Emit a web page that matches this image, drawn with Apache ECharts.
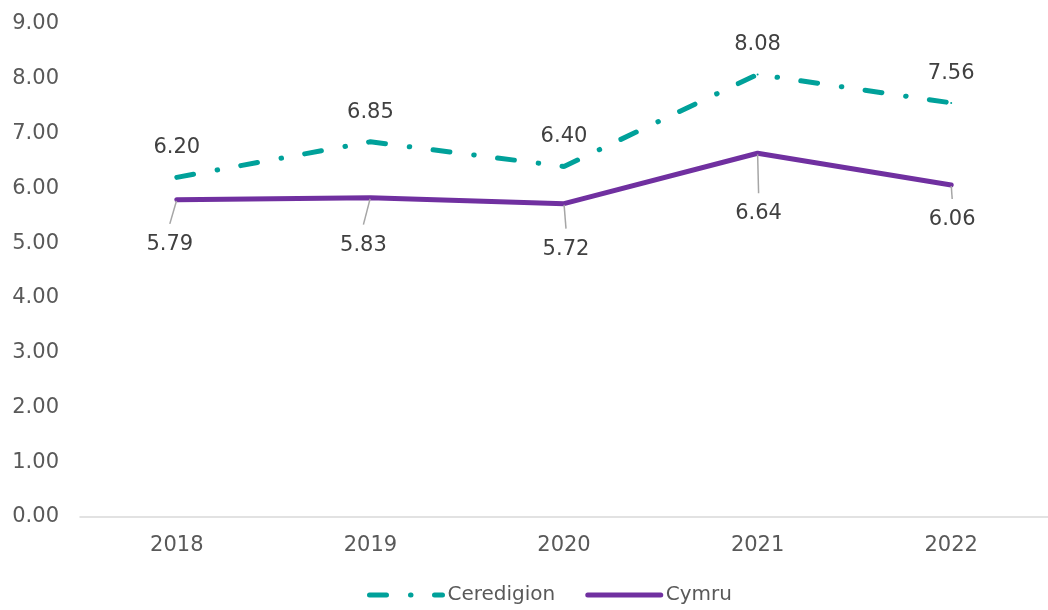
<!DOCTYPE html>
<html>
<head>
<meta charset="utf-8">
<script src="https://cdn.jsdelivr.net/npm/echarts@6/dist/echarts.min.js"></script>
<style>
  html, body { margin: 0; padding: 0; background: #fff; }
  #chart { width: 1048px; height: 610px; }
</style>
</head>
<body>
<div id="chart"></div>
<script>
// data
const years = ['2018', '2019', '2020', '2021', '2022']
const ceredigion = [6.20, 6.85, 6.40, 8.08, 7.56]
const cymru = [5.79, 5.83, 5.72, 6.64, 6.06]

// where the Cymru labels sit relative to their points
const cymruLabelShift = [[-7, 18], [-7, 21], [2, 19], [1, 34], [1, 8]]

const font = 'DejaVu Sans'
const teal = '#00a19a'
const purple = '#7030a0'

const chart = echarts.init(document.getElementById('chart'))
chart.setOption({
  animation: false,
  textStyle: { fontFamily: font },
  grid: { left: 80, right: -12, top: 24, bottom: 93 },
  xAxis: {
    type: 'category',
    data: years,
    boundaryGap: true,
    axisLine: { lineStyle: { color: '#d9d9d9', width: 1.5 } },
    axisTick: { show: false },
    axisLabel: { color: '#595959', fontSize: 21, margin: 18 }
  },
  yAxis: {
    type: 'value',
    min: 0,
    max: 9,
    interval: 1,
    axisLine: { show: false },
    axisTick: { show: false },
    splitLine: { show: false },
    axisLabel: {
      color: '#595959',
      fontSize: 21,
      margin: 21,
      padding: [6, 0, 0, 0],
      formatter: v => v.toFixed(2)
    }
  },
  legend: {
    top: 585,
    left: 367,
    padding: 0,
    itemWidth: 73,
    itemHeight: 14,
    itemGap: 30,
    textStyle: { color: '#595959', fontSize: 20, fontFamily: font },
    itemStyle: { color: 'transparent', borderWidth: 0 },
    lineStyle: { width: 5 },
    data: ['Ceredigion', 'Cymru']
  },
  series: [
    {
      name: 'Ceredigion',
      type: 'line',
      data: ceredigion,
      symbol: 'circle',
      symbolSize: 2,
      itemStyle: { color: teal },
      lineStyle: {
        color: teal,
        width: 5,
        type: [17, 24, 0.5, 23.5],
        cap: 'round'
      },
      label: {
        show: true,
        position: 'top',
        distance: 18,
        color: '#404040',
        fontSize: 21,
        fontFamily: font,
        formatter: p => p.value.toFixed(2)
      }
    },
    {
      name: 'Cymru',
      type: 'line',
      data: cymru,
      symbol: 'circle',
      symbolSize: 2,
      itemStyle: { color: purple },
      lineStyle: { color: purple, width: 5, cap: 'round' },
      label: {
        show: true,
        position: 'bottom',
        distance: 5,
        padding: [10, 0, 0, 0],
        backgroundColor: 'rgba(255,255,255,0)',
        color: '#404040',
        fontSize: 21,
        fontFamily: font,
        formatter: p => p.value.toFixed(2)
      },
      labelLine: {
        show: true,
        lineStyle: { color: '#a6a6a6', width: 1.5 }
      },
      labelLayout: p => ({
        dx: cymruLabelShift[p.dataIndex][0],
        dy: cymruLabelShift[p.dataIndex][1]
      })
    }
  ]
})
</script>
</body>
</html>
